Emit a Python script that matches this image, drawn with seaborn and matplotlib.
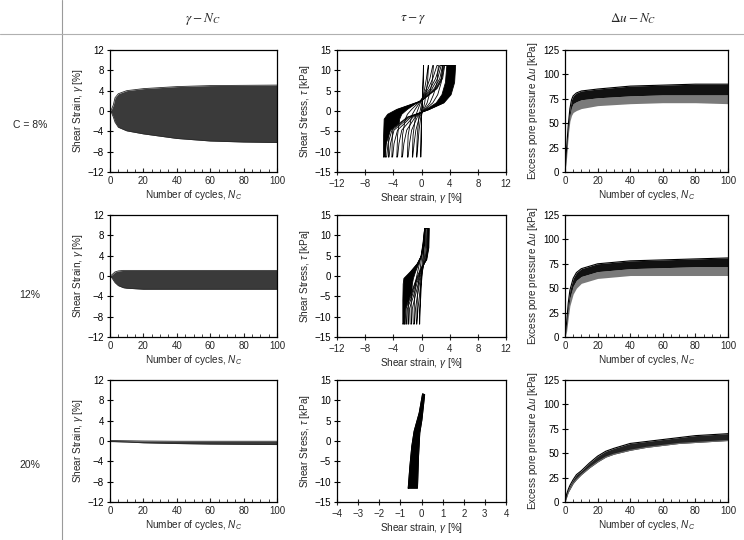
import numpy as np
import pandas as pd
import matplotlib
matplotlib.use("Agg")
import matplotlib.pyplot as plt
from matplotlib.lines import Line2D
from matplotlib.ticker import MultipleLocator
import seaborn as sns

# ---------------- data ----------------
ROW_LABELS = ["C = 8%", "12%", "20%"]
COL_HEADERS = [r"$\gamma - N_C$", r"$\tau - \gamma$", r"$\Delta u - N_C$"]

# shear strain envelopes vs cycles
N_G1 = [0, 1, 2, 3, 5, 10, 20, 40, 60, 80, 100]
G1_UP = [0, 0.4, 1.2, 2.6, 3.4, 4.0, 4.4, 4.8, 5.0, 5.05, 5.1]
G1_LO = [0, -0.4, -1.2, -2.2, -3.2, -3.9, -4.5, -5.4, -5.9, -6.1, -6.2]

N_G2 = [0, 1, 2, 3, 5, 8, 10, 20, 40, 60, 100]
G2_UP = [0, 0.2, 0.5, 0.8, 1.0, 1.1, 1.1, 1.1, 1.1, 1.1, 1.1]
G2_LO = [0, -0.3, -0.8, -1.3, -1.9, -2.3, -2.4, -2.6, -2.6, -2.6, -2.6]

N_G3 = [0, 10, 20, 40, 60, 80, 100]
G3_UP = [0.1, 0.05, 0.0, -0.05, -0.05, -0.05, -0.05]
G3_LO = [-0.1, -0.2, -0.35, -0.5, -0.6, -0.65, -0.7]

# excess pore pressure envelopes vs cycles
N_U1 = [0, 1, 2, 3, 4, 5, 7, 10, 20, 40, 60, 80, 100]
U1_TOP = [0, 25, 48, 65, 74, 78, 81, 83, 85, 88, 89, 90, 90]
U1_MID = [0, 20, 42, 58, 66, 70, 72, 74, 76, 78, 79, 79, 79]
U1_LOW = [0, 15, 38, 52, 58, 61, 63, 65, 68, 70, 71, 71, 70]

N_U2 = [0, 1, 2, 3, 5, 7, 10, 20, 40, 60, 80, 100]
U2_TOP = [0, 15, 35, 48, 60, 66, 70, 75, 78, 79, 80, 81]
U2_MID = [0, 10, 28, 40, 52, 58, 62, 67, 70, 71, 72, 72]
U2_LOW = [0, 6, 20, 32, 44, 50, 55, 60, 63, 63, 63, 63]

N_U3 = [0, 1, 2, 3, 5, 7, 10, 15, 20, 25, 30, 40, 50, 60, 70, 80, 90, 100]
U3_TOP = [0, 8, 13, 17, 23, 28, 32, 40, 47, 52, 55, 60, 62, 64, 66, 68, 69, 70]
U3_LOW = [0, 5, 10, 13, 19, 23, 28, 35, 41, 46, 49, 53, 56, 58, 60, 61, 62, 63]

# hysteresis loops: strain values read at a shared stress sequence (loading, then unloading)
TAU_SEQ1 = [-11.3, -6, -2, -0.8, 0.4, 2.5, 5.5, 8, 11.2, 11.2, 7, 4, 2, 0.3, -1.5, -4.7, -8, -11.3]
LOOPS1 = [
    [-0.1, -0.05, 0.0, 0.02, 0.05, 0.1, 0.17, 0.22, 0.28, 0.3, 0.25, 0.2, 0.15, 0.08, 0.0, -0.03, -0.06, -0.1],
    [-0.7, -0.6, -0.4, -0.3, -0.15, 0.1, 0.45, 0.7, 0.95, 1.0, 0.85, 0.6, 0.45, 0.2, -0.1, -0.35, -0.5, -0.65],
    [-1.3, -1.2, -0.9, -0.75, -0.5, -0.05, 0.7, 1.2, 1.6, 1.7, 1.5, 1.1, 0.8, 0.3, -0.3, -0.8, -1.05, -1.25],
    [-2.0, -1.9, -1.5, -1.3, -0.9, -0.1, 0.95, 1.6, 2.2, 2.4, 2.2, 1.7, 1.2, 0.4, -0.6, -1.4, -1.7, -1.9],
    [-2.8, -2.7, -2.3, -2.0, -1.4, -0.15, 1.25, 2.0, 2.6, 3.0, 2.8, 2.3, 1.6, 0.5, -0.9, -2.1, -2.5, -2.7],
    [-3.5, -3.4, -3.1, -2.8, -2.0, -0.2, 1.5, 2.3, 2.8, 3.6, 3.4, 2.9, 2.1, 0.6, -1.2, -2.8, -3.2, -3.4],
    [-4.2, -4.15, -3.9, -3.6, -2.6, -0.1, 1.8, 2.6, 3.0, 4.1, 3.9, 3.4, 2.5, 0.8, -1.5, -3.4, -3.9, -4.1],
    [-4.7, -4.65, -4.5, -4.1, -3.0, 0.0, 2.0, 2.8, 3.1, 4.5, 4.3, 3.8, 2.9, 0.9, -1.7, -3.9, -4.4, -4.6],
    [-5.1, -5.05, -4.95, -4.5, -3.3, 0.0, 2.1, 2.9, 3.2, 4.7, 4.55, 4.0, 3.1, 1.0, -1.9, -4.2, -4.75, -4.95],
    [-5.4, -5.38, -5.3, -4.8, -3.5, 0.0, 2.2, 3.0, 3.3, 4.85, 4.7, 4.2, 3.2, 1.0, -2.0, -4.4, -5.0, -5.2],
]
DENSE1 = (5, 9)   # the late cycles between these loops overlap into a solid black band

TAU_SEQ2 = [-11.8, -6, -2, -0.6, 1, 3, 5, 8, 11.7, 11.7, 7, 4, 2, 0.3, -1.5, -5, -8, -11.8]
LOOPS2 = [
    [-0.3, -0.2, -0.1, -0.05, 0.0, 0.1, 0.2, 0.35, 0.45, 0.5, 0.4, 0.3, 0.2, 0.1, 0.0, -0.1, -0.2, -0.25],
    [-0.7, -0.6, -0.45, -0.35, -0.25, -0.1, 0.05, 0.25, 0.45, 0.6, 0.55, 0.4, 0.2, 0.05, -0.1, -0.3, -0.5, -0.65],
    [-1.1, -1.0, -0.85, -0.75, -0.55, -0.3, -0.05, 0.2, 0.45, 0.75, 0.7, 0.5, 0.2, 0.0, -0.25, -0.6, -0.85, -1.0],
    [-1.5, -1.45, -1.3, -1.15, -0.85, -0.4, -0.05, 0.25, 0.45, 0.85, 0.8, 0.6, 0.15, -0.1, -0.4, -0.9, -1.3, -1.4],
    [-1.9, -1.85, -1.75, -1.6, -1.1, -0.5, 0.0, 0.3, 0.5, 0.95, 0.9, 0.65, 0.1, -0.2, -0.6, -1.15, -1.7, -1.8],
    [-2.2, -2.2, -2.1, -1.95, -1.3, -0.55, 0.0, 0.3, 0.5, 1.0, 0.95, 0.65, 0.05, -0.3, -0.75, -1.35, -2.0, -2.1],
    [-2.45, -2.45, -2.4, -2.25, -1.5, -0.6, 0.0, 0.3, 0.5, 1.05, 1.0, 0.7, 0.0, -0.4, -0.85, -1.5, -2.2, -2.35],
    [-2.65, -2.65, -2.6, -2.5, -1.6, -0.6, 0.0, 0.35, 0.5, 1.1, 1.05, 0.75, -0.05, -0.5, -0.9, -1.6, -2.3, -2.5],
]
DENSE2 = (3, 7)

# 20 %: dense band outline (strain, stress)
BAND3_G = [-0.63, -0.19, -0.14, -0.08, 0.02, 0.10, 0.15, 0.05, -0.11, -0.35, -0.46, -0.55, -0.63]
BAND3_T = [-11.6, -11.6, -3.8, 2.0, 5.2, 9.0, 11.4, 11.6, 6.9, 2.4, -1.3, -6.2, -11.6]

# ---------------- style ----------------
sns.set_theme(style="ticks")
plt.rcParams["font.family"] = ["Liberation Sans", "DejaVu Sans"]
plt.rcParams["mathtext.fontset"] = "custom"
plt.rcParams["mathtext.rm"] = "Liberation Sans"
plt.rcParams["mathtext.it"] = "Liberation Sans:italic"
plt.rcParams["axes.linewidth"] = 0.9
plt.rcParams["axes.edgecolor"] = "black"

fig = plt.figure(figsize=(7.44, 5.4), dpi=100)
W, H = 744.0, 540.0

col_x = [(110, 277), (337, 506), (565, 728)]
row_y = [(50, 172), (215, 337), (380, 502)]
axes = [[None] * 3 for _ in range(3)]
for r, (yt, yb) in enumerate(row_y):
    for c, (xl, xr) in enumerate(col_x):
        axes[r][c] = fig.add_axes([xl / W, 1 - yb / H, (xr - xl) / W, (yb - yt) / H])

LBL = 7.2
TCK = 7


def style_axis(ax, xin=True):
    ax.tick_params(axis="y", direction="inout", length=4.5, width=0.8, labelsize=TCK, pad=2, colors="black")
    if xin:
        ax.tick_params(axis="x", which="major", direction="in", length=3, width=0.8, labelsize=TCK, pad=3)
        ax.tick_params(axis="x", which="minor", direction="in", length=2, width=0.6)
    else:
        ax.tick_params(axis="x", direction="inout", length=4.5, width=0.8, labelsize=TCK, pad=3)
    for s in ax.spines.values():
        s.set_visible(True)
        s.set_color("black")
        s.set_linewidth(0.9)


# ---- column 1: strain vs cycles
strain_sets = [(N_G1, G1_UP, G1_LO), (N_G2, G2_UP, G2_LO), (N_G3, G3_UP, G3_LO)]
for r, (n, up, lo) in enumerate(strain_sets):
    ax = axes[r][0]
    ax.fill_between(n, lo, up, color="#3a3a3a", lw=0)
    df = pd.DataFrame({"N": n + n, "g": up + lo, "side": ["u"] * len(n) + ["l"] * len(n)})
    sns.lineplot(data=df, x="N", y="g", units="side", estimator=None, sort=False,
                 color="#2a2a2a", lw=0.6, ax=ax)
    ax.set_xlim(0, 100)
    ax.set_ylim(-12, 12)
    ax.xaxis.set_major_locator(MultipleLocator(20))
    ax.xaxis.set_minor_locator(MultipleLocator(5))
    ax.yaxis.set_major_locator(MultipleLocator(4))
    ax.set_xlabel(r"Number of cycles, $N_C$", fontsize=LBL, labelpad=1)
    ax.set_ylabel(r"Shear Strain, $\gamma$ [%]", fontsize=LBL, labelpad=2)
    style_axis(ax, xin=True)

# ---- column 2: stress-strain loops
for r, (tau_seq, loops, dense) in enumerate([(TAU_SEQ1, LOOPS1, DENSE1), (TAU_SEQ2, LOOPS2, DENSE2)]):
    ax = axes[r][1]
    closed_t = tau_seq + [tau_seq[0]]
    inner, outer = dense
    # solid band formed by the many overlapping late cycles
    ax.fill(loops[outer] + [loops[outer][0]], closed_t, color="black", lw=0)
    ax.fill(loops[inner] + [loops[inner][0]], closed_t, color="white", lw=0)
    rows = []
    for i, g in enumerate(loops):
        for k, (gg, tt) in enumerate(zip(g + [g[0]], closed_t)):
            rows.append((i, k, gg, tt))
    df = pd.DataFrame(rows, columns=["loop", "k", "gamma", "tau"])
    sns.lineplot(data=df, x="gamma", y="tau", units="loop", estimator=None, sort=False,
                 color="black", lw=0.6, ax=ax)
    ax.set_xlim(-12, 12)
    ax.xaxis.set_major_locator(MultipleLocator(4))

ax = axes[2][1]
ax.fill(BAND3_G, BAND3_T, color="black", lw=0.6)
df3 = pd.DataFrame({"gamma": BAND3_G, "tau": BAND3_T})
sns.lineplot(data=df3, x="gamma", y="tau", sort=False, estimator=None, color="black", lw=0.7, ax=ax)
ax.set_xlim(-4, 4)
ax.xaxis.set_major_locator(MultipleLocator(1))

for r in range(3):
    ax = axes[r][1]
    ax.set_ylim(-15, 15)
    ax.yaxis.set_major_locator(MultipleLocator(5))
    ax.set_xlabel(r"Shear strain, $\gamma$ [%]", fontsize=LBL, labelpad=1)
    ax.set_ylabel(r"Shear Stress, $\tau$ [kPa]", fontsize=LBL, labelpad=2)
    style_axis(ax, xin=False)

# ---- column 3: excess pore pressure vs cycles
pp_sets = [(N_U1, U1_TOP, U1_MID, U1_LOW), (N_U2, U2_TOP, U2_MID, U2_LOW)]
for r, (n, top, mid, low) in enumerate(pp_sets):
    ax = axes[r][2]
    ax.fill_between(n, low, mid, color="#7a7a7a", lw=0)
    ax.fill_between(n, mid, top, color="#111111", lw=0)
    df = pd.DataFrame({"N": n, "u": top})
    sns.lineplot(data=df, x="N", y="u", color="black", lw=0.8, ax=ax)

ax = axes[2][2]
ax.fill_between(N_U3, U3_LOW, U3_TOP, color="#222222", lw=0)
df = pd.DataFrame({"N": N_U3, "u": U3_LOW})
sns.lineplot(data=df, x="N", y="u", color="#6a6a6a", lw=0.8, ax=ax)
df = pd.DataFrame({"N": N_U3, "u": U3_TOP})
sns.lineplot(data=df, x="N", y="u", color="black", lw=0.8, ax=ax)

for r in range(3):
    ax = axes[r][2]
    ax.set_xlim(0, 100)
    ax.set_ylim(0, 125)
    ax.xaxis.set_major_locator(MultipleLocator(20))
    ax.xaxis.set_minor_locator(MultipleLocator(5))
    ax.yaxis.set_major_locator(MultipleLocator(25))
    ax.set_xlabel(r"Number of cycles, $N_C$", fontsize=LBL, labelpad=1)
    ax.set_ylabel(r"Excess pore pressure $\Delta u$ [kPa]", fontsize=LBL, labelpad=2)
    style_axis(ax, xin=True)

# ---- table frame, headers and row labels
fig.add_artist(Line2D([62 / W, 62 / W], [0, 1], color="#9a9a9a", lw=0.8, transform=fig.transFigure))
fig.add_artist(Line2D([0, 1], [1 - 34 / H, 1 - 34 / H], color="#b0b0b0", lw=0.8, transform=fig.transFigure))

head_x = [203, 413, 633]
for hx, txt in zip(head_x, COL_HEADERS):
    fig.text(hx / W, 1 - 19 / H, txt, ha="center", va="center", fontsize=9.5, math_fontfamily="stix")

row_lab_y = [125, 295, 465]
for ry, txt in zip(row_lab_y, ROW_LABELS):
    fig.text(30 / W, 1 - ry / H, txt, ha="center", va="center", fontsize=7.5)

fig.savefig("out.png", dpi=100)
